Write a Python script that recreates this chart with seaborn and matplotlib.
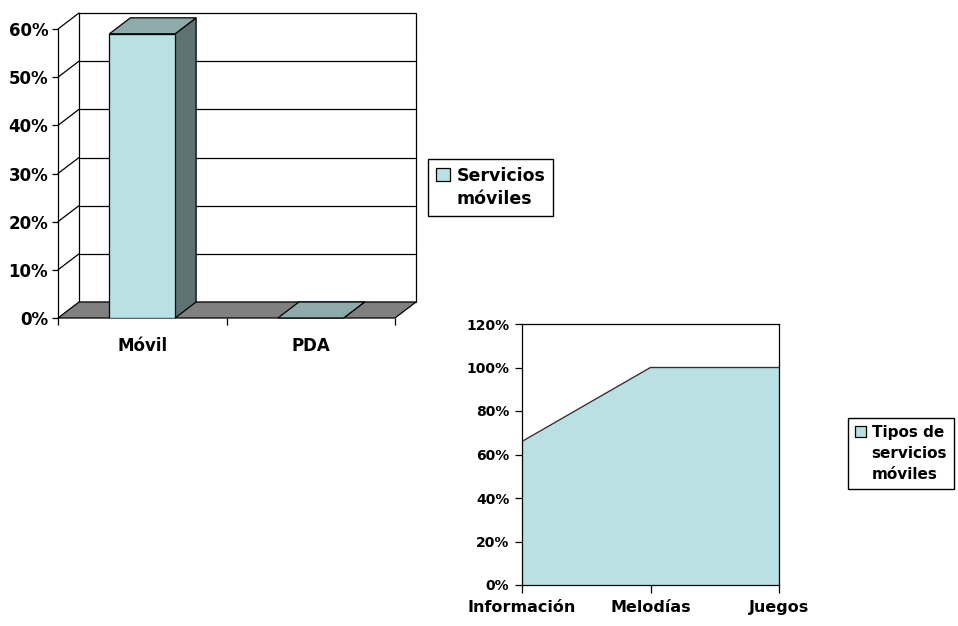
import numpy as np
import pandas as pd
import matplotlib
matplotlib.use("Agg")
import matplotlib.pyplot as plt
from matplotlib.patches import Polygon, Patch
import seaborn as sns

# --- data -------------------------------------------------------------
device_labels = ["Móvil", "PDA"]
device_share = [0.59, 0.0]
device_series = "Servicios\nmóviles"

service_labels = ["Información", "Melodías", "Juegos"]
service_share = [0.66, 1.00, 1.00]
service_series = "Tipos de\nservicios\nmóviles"

# --- style ------------------------------------------------------------
sns.set_theme(style="white")
plt.rcParams["font.family"] = ["DejaVu Sans"]
plt.rcParams["font.weight"] = "bold"
plt.rcParams["text.color"] = "black"
plt.rcParams["xtick.color"] = "black"
plt.rcParams["ytick.color"] = "black"
plt.rcParams["xtick.labelcolor"] = "black"
plt.rcParams["ytick.labelcolor"] = "black"

FRONT = "#B9E0E3"
TOP = "#8FAAAB"
SIDE = "#5F7273"
FLOOR = "#808080"
LW = 0.9

W, H = 958, 626
fig = plt.figure(figsize=(W / 100, H / 100), dpi=100)
fig.patch.set_facecolor("white")


def px_axes(left, top, right, bottom):
    return fig.add_axes([left / W, 1 - bottom / H, (right - left) / W, (bottom - top) / H])


# --- 3D-looking column chart -----------------------------------------
ax1 = px_axes(58, 29, 395, 318)
df1 = pd.DataFrame({"dispositivo": device_labels, "valor": device_share})
sns.barplot(data=df1, x="dispositivo", y="valor", color=FRONT, width=0.39,
            edgecolor="black", linewidth=LW, saturation=1, ax=ax1, zorder=5)
ax1.set_xlim(-0.5, 1.5)
ax1.set_ylim(0, 0.6)
ax1.patch.set_alpha(0)

# depth offset of the box expressed in data units
depth_px_x, depth_px_y = 21, 16
bbox = ax1.get_window_extent()
dx = depth_px_x * 2.0 / bbox.width
dy = depth_px_y * 0.6 / bbox.height

x0, x1 = -0.5, 1.5
ymax = 0.6

# back wall with gridlines
ax1.add_patch(Polygon([(x0 + dx, dy), (x1 + dx, dy), (x1 + dx, ymax + dy), (x0 + dx, ymax + dy)],
                      closed=True, facecolor="white", edgecolor="black", lw=LW,
                      clip_on=False, zorder=1))
for g in np.arange(0.1, 0.6, 0.1):
    ax1.plot([x0 + dx, x1 + dx], [g + dy, g + dy], color="black", lw=LW, clip_on=False, zorder=1)
# left wall diagonals
for g in np.arange(0.1, 0.61, 0.1):
    ax1.plot([x0, x0 + dx], [g, g + dy], color="black", lw=LW, clip_on=False, zorder=1)
# floor
ax1.add_patch(Polygon([(x0, 0), (x1, 0), (x1 + dx, dy), (x0 + dx, dy)], closed=True,
                      facecolor=FLOOR, edgecolor="black", lw=LW, clip_on=False, zorder=2))

# top and side faces for every column
bars = [p for p in ax1.patches if p.get_facecolor()[:3] == matplotlib.colors.to_rgb(FRONT)]
for bar, v in zip(bars, device_share):
    bl = bar.get_x()
    br = bl + bar.get_width()
    ax1.add_patch(Polygon([(br, 0), (br + dx, dy), (br + dx, v + dy), (br, v)], closed=True,
                          facecolor=SIDE, edgecolor="black", lw=LW, clip_on=False, zorder=4))
    ax1.add_patch(Polygon([(bl, v), (br, v), (br + dx, v + dy), (bl + dx, v + dy)], closed=True,
                          facecolor=TOP, edgecolor="black", lw=LW, clip_on=False, zorder=4))
    if v == 0:
        bar.set_visible(False)

for s in ["top", "right", "bottom"]:
    ax1.spines[s].set_visible(False)
ax1.spines["left"].set_color("black")
ax1.spines["left"].set_linewidth(LW)
ax1.spines["left"].set_zorder(3)
ax1.set_yticks(np.arange(0, 0.61, 0.1))
ax1.set_yticklabels([f"{int(round(t * 100))}%" for t in np.arange(0, 0.61, 0.1)],
                    fontsize=12, fontweight="bold")
ax1.tick_params(axis="y", left=True, length=4, width=LW, color="black", pad=3)
ax1.set_xticks([0, 1])
ax1.set_xticklabels(device_labels, fontsize=12, fontweight="bold")
ax1.set_xticks([-0.5, 0.5, 1.5], minor=True)
ax1.tick_params(axis="x", which="major", bottom=False, pad=8)
ax1.tick_params(axis="x", which="minor", bottom=True, length=5, width=LW, color="black")
ax1.set_xlabel("")
ax1.set_ylabel("")

fig.legend(handles=[Patch(facecolor=FRONT, edgecolor="black", lw=LW),
                    Patch(visible=False)],
           labels=device_series.split("\n"),
           loc="upper left", bbox_to_anchor=(428 / W, 1 - 159 / H),
           frameon=True, fancybox=False, edgecolor="black", framealpha=1,
           prop={"weight": "bold", "size": 12.5},
           handlelength=0.8, handleheight=0.8, handletextpad=0.4,
           labelspacing=0.3, borderpad=0.45, borderaxespad=0)

# --- area chart -------------------------------------------------------
ax2 = px_axes(522, 324, 779, 585)
df2 = pd.DataFrame({"servicio": service_labels, "valor": service_share})
xpos = np.arange(len(service_labels))
ax2.fill_between(xpos, 0, df2["valor"], color=FRONT, lw=0, zorder=1)
sns.lineplot(x=xpos, y=df2["valor"], color="#333333", lw=1.0, ax=ax2, zorder=2)
ax2.set_xlim(0, len(service_labels) - 1)
ax2.set_ylim(0, 1.2)
for s in ax2.spines.values():
    s.set_visible(True)
    s.set_color("black")
    s.set_linewidth(LW)
ax2.set_yticks(np.arange(0, 1.21, 0.2))
ax2.set_yticklabels([f"{int(round(t * 100))}%" for t in np.arange(0, 1.21, 0.2)],
                    fontsize=10, fontweight="bold")
ax2.set_xticks(xpos)
ax2.set_xticklabels(service_labels, fontsize=11.5, fontweight="bold")
ax2.tick_params(axis="y", left=True, length=5, width=LW, color="black", pad=4)
ax2.tick_params(axis="x", bottom=True, length=6, width=LW, color="black", pad=5)
ax2.set_xlabel("")
ax2.set_ylabel("")

fig.legend(handles=[Patch(facecolor=FRONT, edgecolor="black", lw=LW),
                    Patch(visible=False), Patch(visible=False)],
           labels=service_series.split("\n"),
           loc="upper left", bbox_to_anchor=(848 / W, 1 - 418 / H),
           frameon=True, fancybox=False, edgecolor="black", framealpha=1,
           prop={"weight": "bold", "size": 11},
           handlelength=0.75, handleheight=0.75, handletextpad=0.35,
           labelspacing=0.4, borderpad=0.45, borderaxespad=0)

fig.savefig("out.png", dpi=100, facecolor="white")
